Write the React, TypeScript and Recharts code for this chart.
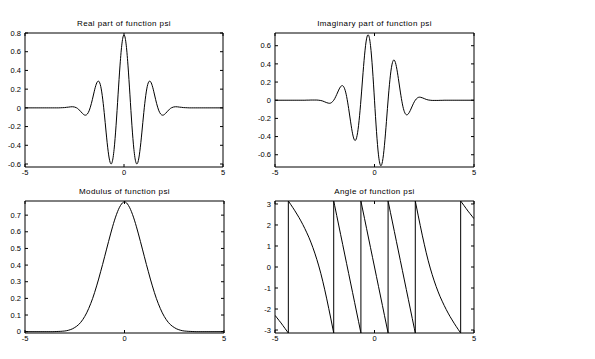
import React from 'react';
import { LineChart, Line, XAxis, YAxis } from 'recharts';

// sample grid
const xs = [
  -5, -4.9, -4.8, -4.7, -4.6, -4.5, -4.4, -4.3, -4.2, -4.1,
  -4, -3.9, -3.8, -3.7, -3.6, -3.5, -3.4, -3.3, -3.2, -3.1,
  -3, -2.9, -2.8, -2.7, -2.6, -2.5, -2.4, -2.3, -2.2, -2.1,
  -2, -1.9, -1.8, -1.7, -1.6, -1.5, -1.4, -1.3, -1.2, -1.1,
  -1, -0.9, -0.8, -0.7, -0.6, -0.5, -0.4, -0.3, -0.2, -0.1,
  0,
  0.1, 0.2, 0.3, 0.4, 0.5, 0.6, 0.7, 0.8, 0.9, 1,
  1.1, 1.2, 1.3, 1.4, 1.5, 1.6, 1.7, 1.8, 1.9, 2,
  2.1, 2.2, 2.3, 2.4, 2.5, 2.6, 2.7, 2.8, 2.9, 3,
  3.1, 3.2, 3.3, 3.4, 3.5, 3.6, 3.7, 3.8, 3.9, 4,
  4.1, 4.2, 4.3, 4.4, 4.5, 4.6, 4.7, 4.8, 4.9, 5,
];

const realPart = [
  0, 0, 0, 0, 0, 0, 0, 0, 0, 0, 0, 0, 0, 0, 0, 0, 0,
  0, 0.001, 0.002, 0.003, 0.006, 0.008, 0.011, 0.012, 0.009, 0.001,
  -0.014, -0.036, -0.059, -0.076, -0.075, -0.049, 0.007, 0.087, 0.178, 0.254,
  0.286, 0.251, 0.134, -0.05, -0.268, -0.464, -0.583, -0.582, -0.443, -0.186,
  0.139, 0.457, 0.692,
  0.78,
  0.692, 0.457, 0.139, -0.186, -0.443, -0.582, -0.583, -0.464, -0.268, -0.05,
  0.134, 0.251, 0.286, 0.254, 0.178, 0.087, 0.007, -0.049, -0.075, -0.076,
  -0.059, -0.036, -0.014, 0.001, 0.009, 0.012, 0.011, 0.008, 0.006, 0.003,
  0.002, 0.001, 0,
  0, 0, 0, 0, 0, 0, 0, 0, 0, 0, 0, 0, 0, 0, 0, 0, 0,
];

const imagPart = [
  0, 0, 0, 0, 0, 0, 0, 0, 0, 0, 0, 0, 0, 0, 0, 0,
  0.001, 0.001, 0.002, 0.002, 0.002, 0.002, 0, -0.003, -0.009, -0.018,
  -0.027, -0.033, -0.031, -0.014, 0.017, 0.063, 0.112, 0.15, 0.16, 0.126,
  0.04, -0.09, -0.238, -0.37, -0.44, -0.413, -0.276, -0.046, 0.233, 0.496,
  0.675, 0.717, 0.601, 0.343,
  0,
  -0.343, -0.601, -0.717, -0.675, -0.496, -0.233, 0.046, 0.276, 0.413, 0.44,
  0.37, 0.238, 0.09, -0.04, -0.126, -0.16, -0.15, -0.112, -0.063, -0.017,
  0.014, 0.031, 0.033, 0.027, 0.018, 0.009, 0.003, 0, -0.002, -0.002,
  -0.002, -0.002, -0.001, -0.001,
  0, 0, 0, 0, 0, 0, 0, 0, 0, 0, 0, 0, 0, 0, 0, 0,
];

const modulus = [
  0, 0, 0, 0, 0, 0, 0, 0, 0, 0, 0, 0, 0, 0, 0,
  0.0005, 0.001, 0.0015, 0.002, 0.003, 0.004, 0.006, 0.009, 0.013, 0.018,
  0.025, 0.033, 0.043, 0.056, 0.072, 0.091, 0.113, 0.139, 0.168, 0.2,
  0.236, 0.275, 0.316, 0.36, 0.404, 0.45, 0.496, 0.542, 0.587, 0.63,
  0.67, 0.705, 0.735, 0.758, 0.774,
  0.78,
  0.774, 0.758, 0.735, 0.705, 0.67, 0.63, 0.587, 0.542, 0.496, 0.45,
  0.404, 0.36, 0.316, 0.275, 0.236, 0.2, 0.168, 0.139, 0.113, 0.091,
  0.072, 0.056, 0.043, 0.033, 0.025, 0.018, 0.013, 0.009, 0.006, 0.004,
  0.003, 0.002, 0.0015, 0.001, 0.0005,
  0, 0, 0, 0, 0, 0, 0, 0, 0, 0, 0, 0, 0, 0, 0,
];

// angle has its own x list: the jumps are two points at the same x
const angleX = [
  -5, -4.9, -4.8, -4.7, -4.6, -4.5, -4.4, -4.33, -4.33, -4.3,
  -4.2, -4.1, -4, -3.9, -3.8, -3.7, -3.6, -3.5, -3.4, -3.3,
  -3.2, -3.1, -3, -2.9, -2.8, -2.7, -2.6, -2.5, -2.4, -2.3,
  -2.2, -2.1, -2.05, -2.05, -2, -1.9, -1.8, -1.7, -1.6, -1.5,
  -1.4, -1.3, -1.2, -1.1, -1, -0.9, -0.8, -0.7, -0.683, -0.683,
  -0.6, -0.5, -0.4, -0.3, -0.2, -0.1, 0,
  0.1, 0.2, 0.3, 0.4, 0.5, 0.6, 0.683, 0.683, 0.7, 0.8,
  0.9, 1, 1.1, 1.2, 1.3, 1.4, 1.5, 1.6, 1.7, 1.8,
  1.9, 2, 2.05, 2.05, 2.1, 2.2, 2.3, 2.4, 2.5, 2.6,
  2.7, 2.8, 2.9, 3, 3.1, 3.2, 3.3, 3.4, 3.5, 3.6,
  3.7, 3.8, 3.9, 4, 4.1, 4.2, 4.3, 4.33, 4.33, 4.4,
  4.5, 4.6, 4.7, 4.8, 4.9, 5,
];

const angleVals = [
  -2.3, -2.42, -2.54, -2.66, -2.79, -2.92, -3.051, -3.14, 3.14, 3.1,
  2.963, 2.821, 2.674, 2.521, 2.363, 2.195, 2.016, 1.827, 1.627, 1.417,
  1.186, 0.934, 0.661, 0.366, 0.05, -0.297, -0.676, -1.086, -1.517, -1.969,
  -2.432, -2.905, -3.14, 3.14, 2.917, 2.457, 1.997, 1.537, 1.077, 0.617,
  0.157, -0.303, -0.763, -1.223, -1.683, -2.143, -2.603, -3.063, -3.14, 3.14,
  2.76, 2.3, 1.84, 1.38, 0.92, 0.46, 0,
  -0.46, -0.92, -1.38, -1.84, -2.3, -2.76, -3.14, 3.14, 3.063, 2.603,
  2.143, 1.683, 1.223, 0.763, 0.303, -0.157, -0.617, -1.077, -1.537, -1.997,
  -2.457, -2.917, -3.14, 3.14, 2.905, 2.432, 1.969, 1.517, 1.086, 0.676,
  0.297, -0.05, -0.366, -0.661, -0.934, -1.186, -1.417, -1.627, -1.827, -2.016,
  -2.195, -2.363, -2.521, -2.674, -2.821, -2.963, -3.1, -3.14, 3.14, 3.051,
  2.92, 2.79, 2.66, 2.54, 2.42, 2.3,
];

const xTicks = [-5, 0, 5];
const realTicks = [-0.6, -0.4, -0.2, 0, 0.2, 0.4, 0.6, 0.8];
const imagTicks = [-0.6, -0.4, -0.2, 0, 0.2, 0.4, 0.6];
const modTicks = [0, 0.1, 0.2, 0.3, 0.4, 0.5, 0.6, 0.7];
const angleTicks = [-3, -2, -1, 0, 1, 2, 3];

const FONT = '"Liberation Sans", Arial, Helvetica, sans-serif';
const tickStyle = { fontSize: 7.5, fill: '#000', fontFamily: FONT };
const blank = () => '';

const toRows = (x: number[], y: number[]) => x.map((v, i) => ({ x: v, y: y[i] }));

interface PanelProps {
  left: number; top: number; pw: number; ph: number;
  title: string;
  rows: { x: number; y: number }[];
  domain: [number, number];
  ticks: number[];
  curve: 'natural' | 'linear';
}

// one MATLAB-style subplot: boxed axes, ticks pointing inward
function Panel({ left, top, pw, ph, title, rows, domain, ticks, curve }: PanelProps) {
  const W = pw + 25 + 10;
  const H = ph + 33 + 18;
  return (
    <div style={{ position: 'absolute', left: left - 25, top: top - 33, width: W, height: H }}>
      <div
        style={{
          position: 'absolute', left: 25, top: 20, width: pw, textAlign: 'center',
          fontFamily: FONT, fontSize: 8, lineHeight: '8px', letterSpacing: 0.4, color: '#000',
        }}
      >
        {title}
      </div>
      <LineChart width={W} height={H} data={rows} margin={{ top: 23, right: 0, bottom: 0, left: 0 }}>
        <XAxis
          xAxisId="b" dataKey="x" type="number" domain={[-5, 5]} ticks={xTicks} interval={0}
          allowDataOverflow height={18} tickSize={-3} tickMargin={6}
          tick={tickStyle} stroke="#000" axisLine={{ stroke: '#000' }} tickLine={{ stroke: '#000' }}
        />
        <XAxis
          xAxisId="t" orientation="top" dataKey="x" type="number" domain={[-5, 5]} ticks={xTicks}
          interval={0} allowDataOverflow height={10} tickSize={-3} tickFormatter={blank}
          stroke="#000" axisLine={{ stroke: '#000' }} tickLine={{ stroke: '#000' }}
        />
        <YAxis
          yAxisId="l" type="number" domain={domain} ticks={ticks} interval={0} allowDataOverflow
          width={25} tickSize={-3} tickMargin={7} tick={tickStyle}
          stroke="#000" axisLine={{ stroke: '#000' }} tickLine={{ stroke: '#000' }}
        />
        <YAxis
          yAxisId="r" orientation="right" type="number" domain={domain} ticks={ticks} interval={0}
          allowDataOverflow width={10} tickSize={-3} tickFormatter={blank}
          stroke="#000" axisLine={{ stroke: '#000' }} tickLine={{ stroke: '#000' }}
        />
        <Line
          xAxisId="b" yAxisId="l" dataKey="y" type={curve} stroke="#000" strokeWidth={1}
          dot={false} activeDot={false} isAnimationActive={false}
        />
      </LineChart>
    </div>
  );
}

export default function App() {
  return (
    <div style={{ position: 'fixed', left: 0, top: 0, width: 595, height: 359, background: '#fff', overflow: 'hidden' }}>
      <Panel left={25} top={33} pw={198} ph={134} title="Real part of function psi"
        rows={toRows(xs, realPart)} domain={[-0.632, 0.8]} ticks={realTicks} curve="natural" />
      <Panel left={275} top={33} pw={199} ph={134} title="Imaginary part of function psi"
        rows={toRows(xs, imagPart)} domain={[-0.735, 0.74]} ticks={imagTicks} curve="natural" />
      <Panel left={25} top={201} pw={199} ph={132} title="Modulus of function psi"
        rows={toRows(xs, modulus)} domain={[-0.008, 0.785]} ticks={modTicks} curve="natural" />
      <Panel left={275} top={201} pw={199} ph={132} title="Angle of function psi"
        rows={toRows(angleX, angleVals)} domain={[-3.1416, 3.1416]} ticks={angleTicks} curve="linear" />
    </div>
  );
}
